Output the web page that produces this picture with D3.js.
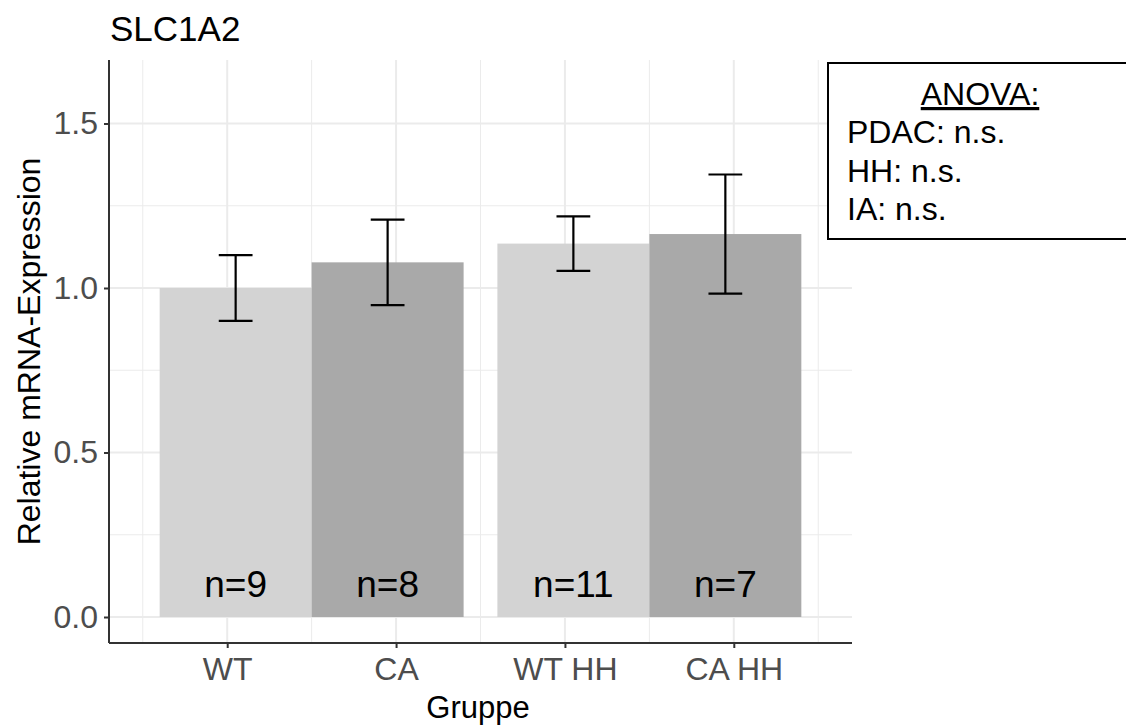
<!DOCTYPE html>
<html>
<head>
<meta charset="utf-8">
<script src="https://cdn.jsdelivr.net/npm/d3@7"></script>
<style>
  html, body { margin: 0; padding: 0; background: #fff; }
  svg { display: block; font-family: "Liberation Sans", Arial, sans-serif; }
</style>
</head>
<body>
<svg id="chart" width="1126" height="727"></svg>
<script>
// Groups and their summary statistics
const groups = ["WT", "CA", "WT HH", "CA HH"];
const means = [1.0, 1.078, 1.135, 1.164];
const errors = [0.10, 0.13, 0.083, 0.181];
const counts = [9, 8, 11, 7];
const genotype = ["WT", "CA", "WT", "CA"];
const hhPair = [0, 0, 1, 1];
const yTicks = [0.0, 0.5, 1.0, 1.5];
const anovaLines = ["PDAC: n.s.", "HH: n.s.", "IA: n.s."];

const fillColor = { WT: "#d3d3d3", CA: "#a9a9a9" };

const svg = d3.select("#chart");
const panel = { left: 109, right: 852, top: 60, bottom: 643 };

const x = d3.scaleLinear().domain([0.3, 4.7]).range([panel.left, panel.right]);
const y = d3.scaleLinear().domain([-0.079, 1.693]).range([panel.bottom, panel.top]);

// Bars are dodged within each HH pair: pair centre ± half a bar width
const barWidth = 0.9;
const barCenter = i => 1.5 + 2 * hhPair[i] + (genotype[i] === "WT" ? -barWidth / 2 : barWidth / 2);

// Grid
const g = svg.append("g");
const minorY = [0.25, 0.75, 1.25];
const minorX = [0.5, 1.5, 2.5, 3.5, 4.5];
g.selectAll(".gy-minor").data(minorY).join("line")
  .attr("x1", panel.left).attr("x2", panel.right)
  .attr("y1", d => y(d)).attr("y2", d => y(d))
  .attr("stroke", "#ebebeb").attr("stroke-width", 1);
g.selectAll(".gx-minor").data(minorX).join("line")
  .attr("y1", panel.top).attr("y2", panel.bottom)
  .attr("x1", d => x(d)).attr("x2", d => x(d))
  .attr("stroke", "#ebebeb").attr("stroke-width", 1);
g.selectAll(".gy-major").data(yTicks).join("line")
  .attr("x1", panel.left).attr("x2", panel.right)
  .attr("y1", d => y(d)).attr("y2", d => y(d))
  .attr("stroke", "#ebebeb").attr("stroke-width", 2);
g.selectAll(".gx-major").data(groups.map((_, i) => i + 1)).join("line")
  .attr("y1", panel.top).attr("y2", panel.bottom)
  .attr("x1", d => x(d)).attr("x2", d => x(d))
  .attr("stroke", "#ebebeb").attr("stroke-width", 2);

// Bars
svg.append("g").selectAll("rect").data(groups).join("rect")
  .attr("x", (d, i) => x(barCenter(i) - barWidth / 2))
  .attr("width", x(barWidth) - x(0))
  .attr("y", (d, i) => y(means[i]))
  .attr("height", (d, i) => y(0) - y(means[i]))
  .attr("fill", (d, i) => fillColor[genotype[i]]);

// Error bars
const capHalf = 0.1;
const eb = svg.append("g").attr("stroke", "#000").attr("stroke-width", 2.2).attr("fill", "none");
groups.forEach((d, i) => {
  const cx = x(barCenter(i));
  const lo = y(means[i] - errors[i]);
  const hi = y(means[i] + errors[i]);
  eb.append("line").attr("x1", cx).attr("x2", cx).attr("y1", lo).attr("y2", hi);
  eb.append("line").attr("x1", x(barCenter(i) - capHalf)).attr("x2", x(barCenter(i) + capHalf)).attr("y1", lo).attr("y2", lo);
  eb.append("line").attr("x1", x(barCenter(i) - capHalf)).attr("x2", x(barCenter(i) + capHalf)).attr("y1", hi).attr("y2", hi);
});

// Sample sizes
svg.append("g").selectAll("text").data(groups).join("text")
  .attr("x", (d, i) => x(barCenter(i)))
  .attr("y", y(0.1))
  .attr("dy", "0.36em")
  .attr("text-anchor", "middle")
  .attr("font-size", 37)
  .attr("fill", "#000")
  .text((d, i) => "n=" + counts[i]);

// Axes
const yAxis = d3.axisLeft(y).tickValues(yTicks).tickFormat(d3.format(".1f")).tickSize(5).tickPadding(6);
const xAxis = d3.axisBottom(x).tickValues(groups.map((_, i) => i + 1)).tickFormat((d) => groups[d - 1]).tickSize(5).tickPadding(9);

const ya = svg.append("g").attr("transform", `translate(${panel.left},0)`).call(yAxis);
ya.select(".domain").attr("d", `M0,${panel.top}V${panel.bottom}`).attr("stroke", "#333").attr("stroke-width", 2);
ya.selectAll(".tick line").attr("stroke", "#333").attr("stroke-width", 2);
ya.selectAll(".tick text").attr("font-size", 32).attr("fill", "#4d4d4d").attr("font-family", "Liberation Sans, Arial, sans-serif");

const xa = svg.append("g").attr("transform", `translate(0,${panel.bottom})`).call(xAxis);
xa.select(".domain").attr("d", `M${panel.left},0H${panel.right}`).attr("stroke", "#333").attr("stroke-width", 2);
xa.selectAll(".tick line").attr("stroke", "#333").attr("stroke-width", 2);
xa.selectAll(".tick text").attr("font-size", 32).attr("fill", "#4d4d4d").attr("font-family", "Liberation Sans, Arial, sans-serif");

// Titles
svg.append("text").attr("x", 110).attr("y", 41).attr("font-size", 35).attr("fill", "#000").text("SLC1A2");
svg.append("text").attr("x", 478).attr("y", 718)
  .attr("text-anchor", "middle").attr("font-size", 31).attr("fill", "#000").text("Gruppe");
svg.append("text")
  .attr("transform", `translate(40,${(panel.top + panel.bottom) / 2}) rotate(-90)`)
  .attr("text-anchor", "middle").attr("font-size", 32).attr("fill", "#000").text("Relative mRNA-Expression");

// ANOVA annotation box
const box = svg.append("g");
box.append("rect").attr("x", 828).attr("y", 63).attr("width", 320).attr("height", 176)
  .attr("fill", "#fff").attr("stroke", "#000").attr("stroke-width", 2);
box.append("text").attr("x", 980).attr("y", 105).attr("text-anchor", "middle")
  .attr("font-size", 32).attr("fill", "#000").attr("text-decoration", "underline").text("ANOVA:");
box.selectAll(".line").data(anovaLines).join("text")
  .attr("x", 847).attr("y", (d, i) => 143 + i * 38.5)
  .attr("font-size", 32).attr("fill", "#000").text(d => d);
</script>
</body>
</html>
